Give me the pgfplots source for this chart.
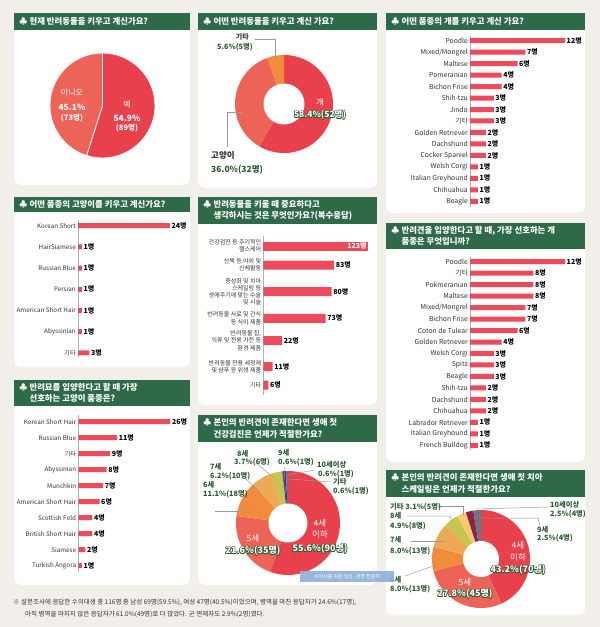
\documentclass[border=0pt]{standalone}
\usepackage{pgfplots}
\pgfplotsset{compat=1.18}
\usepackage{fontspec}
\setmainfont{Noto Sans CJK KR}
\definecolor{bg}{HTML}{F2EEE9}
\definecolor{tgreen}{HTML}{2E6A48}
\definecolor{barred}{HTML}{EB4B5A}
\definecolor{pred}{HTML}{E9414B}
\definecolor{pcoral}{HTML}{EE6358}
\definecolor{porange}{HTML}{F28B3B}
\definecolor{plorange}{HTML}{EEA957}
\definecolor{pygreen}{HTML}{C6C552}
\definecolor{plyellow}{HTML}{F6CB6C}
\definecolor{pmaroon}{HTML}{8C2447}
\definecolor{pgray}{HTML}{6F7383}
\definecolor{ppurple}{HTML}{6B3C86}
\definecolor{pnavy}{HTML}{2F3F80}
\definecolor{lgreen}{HTML}{2D5A32}
\definecolor{txt}{HTML}{333333}
\definecolor{lead}{HTML}{9A9A9A}
\definecolor{wm}{HTML}{8DB0DA}

\newcommand\titlefont{\bfseries\fontsize{8.4}{11.5}\selectfont}
\newcommand\pslice[4]{%
  \pgfmathsetmacro\pSa{90-3.6*(#1)}%
  \pgfmathsetmacro\pSb{90-3.6*(#1+#2)}%
  \edef\tmp{\noexpand\path[#3] (axis cs:0,0) -- ++(\pSa:#4pt) arc[start angle=\pSa, end angle=\pSb, radius=#4pt] -- cycle;}%
  \tmp}
\newcommand\panel[6]{%
  \fill[white, rounded corners=7pt] (#1,-#2) rectangle (#3,-#4);
  \fill[tgreen] (#1,-#2) rectangle (#3,-#2-#5);
  \node[anchor=west, text=white, font=\titlefont, align=left, inner sep=0pt] at (#1+5,-#2-#5/2) {#6};}
\newcommand\olab[3]{%
  \foreach \dx/\dy in {0.65/0,-0.65/0,0/0.65,0/-0.65,0.46/0.46,-0.46/0.46,0.46/-0.46,-0.46/-0.46}{%
    \node[text=lgreen, font=\bfseries\fontsize{#1}{#1}\selectfont, xshift=\dx pt, yshift=\dy pt] at (#2) {#3};}%
  \node[text=white, font=\bfseries\fontsize{#1}{#1}\selectfont] at (#2) {#3};}
\newcommand\glab[3][anchor=west]{\node[#1, text=lgreen, font=\bfseries\fontsize{7.3}{8}\selectfont, inner sep=0pt] at (#2) {#3};}
\newcommand\wlab[3]{\node[text=white, font=\fontsize{#1}{#1}\selectfont, inner sep=0pt] at (#2) {#3};}

\pgfplotsset{
  hbar/.style={
    xbar, bar shift=0pt, bar width=5pt,
    axis x line=none, axis y line*=left,
    y axis line style={draw=black!30, line width=0.6pt},
    y dir=reverse, xmin=0, anchor=north west, clip=false,
    major tick length=0pt, ytick style={draw=none},
    yticklabel style={font=\fontsize{6.8}{7.5}\selectfont, text=txt, inner sep=2pt},
    point meta=x,
    nodes near coords={\pgfmathprintnumber{\pgfplotspointmeta}명},
    nodes near coords align=horizontal,
    every node near coord/.append style={font=\bfseries\fontsize{7}{7}\selectfont, text=black, inner sep=1.5pt},
    /pgf/number format/assume math mode=true,
  },
  pieax/.style={hide axis, x=1pt, y=1pt, xmin=-60, xmax=60, ymin=-60, ymax=60, anchor=center, clip=false},
}

\begin{document}
\begin{tikzpicture}[x=1pt,y=1pt]
\fill[bg] (0,0) rectangle (600,-627);
\coordinate (c1) at (102.5,-105.5);
\coordinate (c4) at (284,-104);
\coordinate (c6) at (288,-523);
\coordinate (c9) at (481,-559);
\coordinate (a7) at (470,-36.1);
\coordinate (a8) at (470,-257.1);
\coordinate (a2) at (78,-220);
\coordinate (a3) at (78.3,-415);
\coordinate (a5) at (263.3,-236);

% ---------------- panels ----------------
\panel{14}{13}{190}{185}{17}{♣ 현재 반려동물을 키우고 계신가요?}
\panel{14}{197}{190}{367}{15}{♣ 어떤 품종의 고양이를 키우고 계신가요?}
\panel{14}{380}{190}{585}{26}{♣ 반려묘를 입양한다고 할 때 가장\\\phantom{♣ }선호하는 고양이 품종은?}
\panel{198}{13}{377}{188}{17}{♣ 어떤 반려동물을 키우고 계신 가요?}
\panel{198}{197}{377}{405}{26.5}{♣ 반려동물을 키울 때 중요하다고\\\phantom{♣ }생각하시는 것은 무엇인가요?(복수응답)}
\panel{198}{415}{377}{585}{27}{♣ 본인의 반려견이 존재한다면 생애 첫\\\phantom{♣ }건강검진은 언제가 적절한가요?}
\panel{386}{13}{585}{213}{17}{♣ 어떤 품종의 개를 키우고 계신 가요?}
\panel{386}{223}{585}{462}{25.5}{♣ 반려견을 입양한다고 할 때, 가장 선호하는 개\\\phantom{♣ }품종은 무엇입니까?}
\panel{386}{470}{585}{615}{27}{♣ 본인의 반려견이 존재한다면 생애 첫 치아\\\phantom{♣ }스케일링은 언제가 적절한가요?}

% ---------------- P1 pie ----------------
\begin{axis}[pieax, at={(c1)}]
  \pslice{0}{54.9}{fill=pred, draw=white, line width=0.8pt}{52.5}
  \pslice{54.9}{45.1}{fill=pcoral, draw=white, line width=0.8pt}{52.5}
\end{axis}
\wlab{8}{72,-93}{아니오}
\node[text=white, font=\bfseries\fontsize{8.5}{8.5}\selectfont] at (72,-107) {45.1\%};
\node[text=white, font=\bfseries\fontsize{7.5}{7.5}\selectfont] at (72,-118) {(73명)};
\wlab{8}{127,-105}{예}
\node[text=white, font=\bfseries\fontsize{8.5}{8.5}\selectfont] at (127,-118) {54.9\%};
\node[text=white, font=\bfseries\fontsize{7.5}{7.5}\selectfont] at (127,-128) {(89명)};

% ---------------- P4 donut ----------------
\begin{axis}[pieax, at={(c4)}]
  \pslice{0}{58.4}{fill=pred}{49}
  \pslice{58.4}{36.0}{fill=pcoral}{49}
  \pslice{94.4}{5.6}{fill=porange}{49}
  \fill[white] (axis cs:0,0) circle[radius=20.5pt];
\end{axis}
\draw[lead, line width=0.6pt] (255,-39) -- (275,-39) -- (275,-60);
\node[anchor=east, text=txt, font=\bfseries\fontsize{7}{7}\selectfont, inner sep=0pt] at (249,-37) {기타};
\glab[anchor=east]{253,-47}{5.6\%(5명)}
\wlab{8.5}{320,-102}{개}
\olab{8.5}{320,-115}{58.4\%(52명)}
\draw[lead, line width=0.6pt] (243,-112) -- (227,-112) -- (227,-147);
\node[anchor=west, text=txt, font=\bfseries\fontsize{8.5}{8.5}\selectfont, inner sep=0pt] at (211,-155) {고양이};
\node[anchor=west, text=lgreen, font=\bfseries\fontsize{8.5}{8.5}\selectfont, inner sep=0pt] at (211,-170) {36.0\%(32명)};

% ---------------- P7 dog breeds ----------------
\begin{axis}[hbar, at={(a7)}, x=7.92pt, y=11.47pt, xmax=13, ymin=-0.4, ymax=14.5,
  ytick={0,...,14},
  yticklabels={Poodle, Mixed/Mongrel, Maltese, Pomeranian, Bichon Frise, Shih-tzu, Jindo, 기타, Golden Retriever, Dachshund, Cocker Spaniel, Welsh Corgi, Italian Greyhound, Chihuahua, Beagle}]
\addplot[fill=barred, draw=none] coordinates {(12,0) (7,1) (6,2) (4,3) (4,4) (3,5) (3,6) (3,7) (2,8) (2,9) (2,10) (1,11) (1,12) (1,13) (1,14)};
\end{axis}

% ---------------- P8 dog preference ----------------
\begin{axis}[hbar, at={(a8)}, x=7.92pt, y=11.475pt, xmax=13, ymin=-0.4, ymax=16.4,
  ytick={0,...,16},
  yticklabels={Poodle, 기타, Pokmeranian, Maltese, Mixed/Mongrel, Bichon Frise, Coton de Tulear, Golden Retriever, Welsh Corgi, Spitz, Beagle, Shih-tzu, Dachshund, Chihuahua, Labrador Retriever, Italian Greyhound, French Bulldog}]
\addplot[fill=barred, draw=none] coordinates {(12,0) (8,1) (8,2) (8,3) (7,4) (7,5) (6,6) (4,7) (3,8) (3,9) (3,10) (2,11) (2,12) (2,13) (1,14) (1,15) (1,16)};
\end{axis}

% ---------------- P2 cat breeds ----------------
\begin{axis}[hbar, at={(a2)}, x=3.83pt, y=21.2pt, xmax=26, ymin=-0.27, ymax=6.19,
  ytick={0,...,6},
  yticklabel style={font=\fontsize{6.3}{7}\selectfont},
  yticklabels={Korean Short, HairSiamese, Russian Blue, Persian, American Short Hair, Abyssinian, 기타}]
\addplot[fill=barred, draw=none] coordinates {(24,0) (1,1) (1,2) (1,3) (1,4) (1,5) (3,6)};
\end{axis}

% ---------------- P3 cat preference ----------------
\begin{axis}[hbar, at={(a3)}, x=3.54pt, y=16pt, xmax=28, ymin=-0.42, ymax=9.39,
  ytick={0,...,9},
  yticklabel style={font=\fontsize{6.3}{7}\selectfont},
  yticklabels={Korean Short Hair, Russian Blue, 기타, Abyssinian, Munchkin, American Short Hair, Scottish Fold, British Short Hair, Siamese, Turkish Angora}]
\addplot[fill=barred, draw=none] coordinates {(26,0) (11,1) (9,2) (8,3) (7,4) (6,5) (4,6) (4,7) (2,8) (1,9)};
\end{axis}

% ---------------- P5 important ----------------
\begin{axis}[hbar, at={(a5)}, x=0.854pt, y=1pt, xmax=130, ymin=-10, ymax=149, bar width=9pt,
  ytick={0,19,45.7,72.3,94.7,120.7,139},
  yticklabel style={font=\fontsize{6}{7.2}\selectfont, align=right},
  yticklabels={{건강검진 등 주기적인\\헬스케어}, {산책 등 야외 및\\신체활동}, {중성화 및 치아\\스케일링 등\\생애주기에 맞는 수술\\및 시술}, {반려동물 사료 및 간식\\등 식이 제품}, {반려동물 집,\\의류 및 전용 가전 등\\환경 제품}, {반려동물 전용 세정제\\및 샴푸 등 위생 제품}, 기타}]
\addplot[fill=barred, draw=none, every node near coord/.append style={anchor=east, text=white}] coordinates {(123,0)};
\addplot[fill=barred, draw=none] coordinates {(83,19) (80,45.7) (73,72.3) (22,94.7) (11,120.7) (6,139)};
\end{axis}

% ---------------- P6 health check donut ----------------
\begin{axis}[pieax, at={(c6)}]
  \pslice{0}{55.6}{fill=pred}{52}
  \pslice{55.6}{21.6}{fill=pcoral}{52}
  \pslice{77.2}{11.1}{fill=porange}{52}
  \pslice{88.3}{6.2}{fill=plorange}{52}
  \pslice{94.5}{3.7}{fill=pygreen}{52}
  \pslice{98.2}{0.6}{fill=ppurple}{52}
  \pslice{98.8}{0.6}{fill=pnavy}{52}
  \pslice{99.4}{0.6}{fill=pgray}{52}
  \fill[white] (axis cs:0,0) circle[radius=19.5pt];
\end{axis}
\draw[lead, line width=0.5pt] (256,-463) -- (273,-477);
\draw[lead, line width=0.5pt] (245,-478) -- (262,-494);
\draw[lead, line width=0.5pt] (215,-511) -- (246,-511);
\draw[lead, line width=0.5pt] (284,-466) -- (285,-476);
\draw[lead, line width=0.5pt] (287,-475) -- (315,-470);
\draw[lead, line width=0.5pt] (289,-479) -- (331,-482);
\glab{237,-454}{8세}
\glab{234,-462.5}{3.7\%(6명)}
\glab{278,-453}{9세}
\glab{278,-462}{0.6\%(1명)}
\glab{317,-465}{10세이상}
\glab{318,-474}{0.6\%(1명)}
\glab{333,-482}{기타}
\glab{333,-491}{0.6\%(1명)}
\glab{210,-467}{7세}
\glab{210,-476}{6.2\%(10명)}
\glab{203,-485}{6세}
\glab{203,-494}{11.1\%(18명)}
\wlab{8.5}{320,-523}{4세}
\wlab{8.5}{320,-534}{이하}
\olab{9}{320,-549}{55.6\%(90명)}
\wlab{8.5}{253,-538}{5세}
\olab{9}{253,-551}{21.6\%(35명)}

% ---------------- P9 scaling donut ----------------
\begin{axis}[pieax, at={(c9)}]
  \pslice{0}{43.2}{fill=pred}{49}
  \pslice{43.2}{27.8}{fill=pcoral}{49}
  \pslice{71.0}{8.0}{fill=porange}{49}
  \pslice{79.0}{8.0}{fill=plorange}{49}
  \pslice{87.0}{4.9}{fill=pygreen}{49}
  \pslice{91.9}{3.1}{fill=plyellow}{49}
  \pslice{95.0}{2.5}{fill=pmaroon}{49}
  \pslice{97.5}{2.5}{fill=pgray}{49}
  \fill[white] (axis cs:0,0) circle[radius=18pt];
\end{axis}
\draw[lead, line width=0.5pt] (438,-506) -- (463,-506) -- (463,-515);
\draw[lead, line width=0.5pt] (406,-516) -- (450,-516) -- (452,-522);
\draw[lead, line width=0.5pt] (411,-541) -- (445,-541);
\draw[lead, line width=0.5pt] (405,-576) -- (436,-565);
\draw[lead, line width=0.5pt] (476,-509) -- (548,-507);
\draw[lead, line width=0.5pt] (482,-518) -- (538,-518) -- (540,-526);
\glab{390,-507}{기타 3.1\%(5명)}
\glab{390,-516}{8세}
\glab{390,-526}{4.9\%(8명)}
\glab{390,-540}{7세}
\glab{390,-551}{8.0\%(13명)}
\glab{390,-580}{6세}
\glab{390,-589}{8.0\%(13명)}
\glab{550,-505}{10세이상}
\glab{550,-514}{2.5\%(4명)}
\glab{537,-530}{9세}
\glab{537,-538.5}{2.5\%(4명)}
\wlab{8.5}{518,-545}{4세}
\wlab{8.5}{518,-557}{이하}
\olab{9}{518,-570}{43.2\%(70명)}
\wlab{8.5}{465,-582}{5세}
\olab{9}{465,-594}{27.8\%(45명)}

% ---------------- watermark ----------------
\fill[wm, opacity=0.9] (300,-571) rectangle (394,-582);
\node[text=white, font=\fontsize{5}{5}\selectfont, inner sep=0pt] at (347,-576.5) {수의사를 위한 임상·경영 전문지};

% ---------------- footnote ----------------
\node[anchor=west, text=txt, font=\fontsize{6.5}{7}\selectfont, inner sep=0pt] at (13,-602) {※ 설문조사에 응답한 수의대생 총 116명 중 남성 69명(59.5\%), 여성 47명(40.5\%)이었으며, 병역을 마친 응답자가 24.6\%(17명),};
\node[anchor=west, text=txt, font=\fontsize{6.5}{7}\selectfont, inner sep=0pt] at (25,-614) {아직 병역을 마치지 않은 응답자가 61.0\%(49명)로 더 많았다. 군 면제자도 2.9\%(2명)였다.};
\end{tikzpicture}
\end{document}
